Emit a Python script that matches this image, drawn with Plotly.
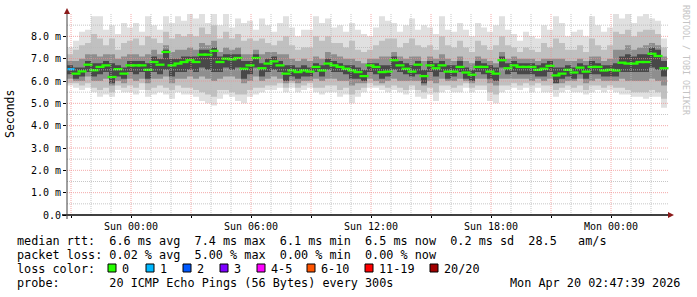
import plotly.graph_objects as go
import pandas as pd

# ---------------- data ----------------
median_ms = [6.53, 6.33, 6.43, 6.73, 6.48, 6.63, 6.70, 6.18, 6.53, 6.33,
             6.70, 6.70, 6.70, 6.50, 6.85, 6.73, 7.30, 6.70, 6.78, 6.85,
             6.93, 6.85, 7.18, 7.18, 7.35, 6.85, 7.00, 6.97, 7.03, 6.55,
             6.70, 7.03, 6.57, 6.78, 6.88, 6.70, 6.33, 6.47, 6.40, 6.47,
             6.42, 6.63, 6.47, 6.78, 6.70, 6.63, 6.55, 6.47, 6.40, 6.22,
             6.70, 6.63, 6.40, 6.42, 6.93, 6.70, 6.55, 6.42, 6.73, 6.22,
             6.70, 6.57, 6.70, 6.42, 6.42, 6.63, 6.38, 6.28, 6.63, 6.63,
             6.42, 6.33, 6.93, 6.57, 6.70, 6.63, 6.63, 6.63, 6.50, 6.55,
             6.68, 6.25, 6.33, 6.50, 6.38, 6.60, 6.42, 6.63, 6.63, 6.47,
             6.50, 6.47, 6.82, 6.78, 6.78, 6.85, 6.85, 7.22, 7.12, 6.57]

loss_count = [1, 0, 0, 0, 0, 0, 0, 0, 0, 0, 0, 0, 0, 0, 0, 0, 0, 0, 0, 0,
              0, 0, 0, 0, 0, 0, 0, 0, 0, 0, 0, 0, 0, 0, 0, 0, 0, 0, 0, 0,
              0, 0, 0, 0, 0, 0, 0, 0, 0, 0, 0, 0, 0, 0, 0, 0, 0, 0, 0, 0,
              0, 0, 0, 0, 0, 0, 0, 0, 0, 0, 0, 0, 0, 0, 0, 0, 0, 0, 0, 0,
              0, 0, 0, 0, 0, 0, 0, 0, 0, 0, 0, 0, 0, 0, 0, 0, 0, 0, 0, 0]

# outermost smoke (min / max ping)
smoke1_hi = [7.5, 7.8, 8.2, 8.3, 8.9, 8.9, 8.3, 8.5, 8.1, 8.6,
             8.4, 8.6, 8.2, 8.9, 8.5, 8.3, 8.9, 8.6, 8.9, 8.7,
             9.2, 8.8, 9.2, 8.6, 9.2, 8.5, 9.0, 8.4, 8.8, 8.6,
             8.7, 8.3, 8.8, 8.5, 8.2, 8.6, 8.9, 8.4, 8.0, 8.3,
             8.3, 8.9, 8.6, 8.8, 8.4, 8.5, 8.2, 8.6, 8.3, 8.1,
             8.0, 8.4, 8.9, 8.7, 8.6, 8.2, 8.5, 8.8, 8.3, 8.5,
             8.4, 8.1, 8.9, 8.3, 8.2, 8.6, 8.3, 8.0, 8.6, 8.4,
             8.2, 8.5, 8.9, 8.3, 8.1, 7.8, 8.2, 8.0, 7.9, 8.5,
             8.3, 8.9, 8.6, 8.0, 8.2, 8.3, 8.0, 8.9, 8.5, 8.2,
             8.4, 9.0, 8.8, 9.0, 8.6, 8.9, 9.0, 8.8, 8.7, 7.9]
smoke1_lo = [5.8, 5.7, 5.6, 5.7, 5.5, 5.3, 5.4, 5.3, 5.6, 5.5,
             5.5, 5.4, 5.6, 5.3, 5.4, 5.5, 5.4, 5.2, 5.5, 5.4,
             5.4, 5.3, 5.1, 5.0, 4.9, 5.2, 5.4, 5.3, 5.1, 5.0,
             5.3, 5.4, 5.5, 5.6, 5.6, 5.7, 5.5, 5.7, 5.5, 5.6,
             5.7, 5.5, 5.4, 5.5, 5.5, 5.3, 5.4, 5.0, 5.3, 5.5,
             5.7, 5.7, 5.6, 5.5, 5.6, 5.5, 5.4, 5.6, 5.3, 5.2,
             5.4, 5.1, 5.5, 5.6, 5.5, 5.5, 5.7, 5.5, 5.6, 5.6,
             5.1, 5.0, 5.5, 5.6, 5.7, 5.6, 5.7, 5.5, 5.7, 5.5,
             5.5, 5.3, 5.5, 5.6, 5.5, 5.5, 5.4, 5.5, 5.6, 5.5,
             5.6, 5.5, 5.4, 5.4, 5.3, 5.3, 5.2, 5.3, 5.3, 4.8]
# second smoke layer
smoke2_hi = [7.2, 7.4, 7.6, 7.7, 8.1, 7.9, 7.6, 7.9, 7.4, 7.7,
             7.8, 7.9, 7.6, 8.0, 7.9, 7.7, 8.2, 7.9, 8.1, 8.0,
             8.1, 8.0, 8.4, 8.1, 8.5, 7.9, 8.2, 7.9, 8.1, 7.8,
             7.9, 7.8, 7.9, 7.7, 7.6, 7.8, 8.0, 7.6, 7.4, 7.5,
             7.5, 8.0, 7.8, 8.0, 7.7, 7.7, 7.5, 7.8, 7.4, 7.3,
             7.4, 7.6, 7.8, 7.9, 7.9, 7.5, 7.7, 7.9, 7.6, 7.5,
             7.6, 7.4, 8.0, 7.6, 7.5, 7.8, 7.5, 7.3, 7.8, 7.6,
             7.4, 7.6, 8.0, 7.6, 7.5, 7.3, 7.5, 7.4, 7.3, 7.7,
             7.5, 7.9, 7.7, 7.4, 7.4, 7.6, 7.3, 7.9, 7.6, 7.4,
             7.6, 8.2, 8.1, 8.3, 8.0, 8.2, 8.3, 8.3, 8.1, 7.5]
smoke2_lo = [5.9, 5.9, 5.8, 5.9, 5.7, 5.6, 5.7, 5.5, 5.8, 5.7,
             5.8, 5.7, 5.9, 5.6, 5.7, 5.8, 5.7, 5.6, 5.8, 5.7,
             5.7, 5.6, 5.5, 5.4, 5.3, 5.6, 5.6, 5.5, 5.4, 5.4,
             5.6, 5.7, 5.7, 5.8, 5.8, 5.9, 5.7, 5.9, 5.7, 5.8,
             5.9, 5.7, 5.7, 5.8, 5.8, 5.6, 5.7, 5.4, 5.6, 5.7,
             5.9, 5.8, 5.8, 5.7, 5.8, 5.7, 5.6, 5.8, 5.6, 5.5,
             5.7, 5.5, 5.8, 5.8, 5.7, 5.8, 5.9, 5.7, 5.8, 5.8,
             5.5, 5.4, 5.8, 5.8, 5.9, 5.8, 5.9, 5.8, 5.9, 5.8,
             5.8, 5.6, 5.7, 5.8, 5.7, 5.8, 5.6, 5.8, 5.8, 5.7,
             5.8, 5.7, 5.7, 5.6, 5.5, 5.5, 5.5, 5.6, 5.5, 5.2]
# third smoke layer
smoke3_hi = [6.9, 6.9, 7.0, 7.2, 7.2, 7.1, 7.2, 7.2, 7.0, 7.1,
             7.2, 7.2, 7.1, 7.2, 7.4, 7.2, 7.6, 7.3, 7.4, 7.4,
             7.5, 7.4, 7.7, 7.6, 7.8, 7.3, 7.5, 7.4, 7.5, 7.2,
             7.2, 7.4, 7.2, 7.3, 7.3, 7.2, 7.2, 7.0, 6.9, 7.0,
             6.9, 7.1, 7.0, 7.3, 7.2, 7.1, 7.0, 7.0, 6.9, 6.8,
             7.0, 7.0, 7.1, 7.1, 7.3, 7.1, 7.0, 7.1, 7.1, 6.9,
             7.1, 7.0, 7.2, 7.0, 6.9, 7.1, 6.9, 6.8, 7.1, 7.0,
             6.9, 6.8, 7.3, 7.0, 7.1, 7.0, 7.0, 7.0, 6.9, 7.0,
             7.0, 7.0, 7.0, 6.9, 6.9, 7.0, 6.9, 7.1, 7.1, 6.9,
             7.0, 7.4, 7.4, 7.6, 7.4, 7.5, 7.6, 7.7, 7.6, 7.1]
smoke3_lo = [6.1, 6.0, 6.0, 6.2, 6.0, 6.0, 6.1, 5.8, 6.0, 5.9,
             6.1, 6.0, 6.1, 5.9, 6.1, 6.1, 6.2, 5.9, 6.1, 6.1,
             6.2, 6.1, 6.2, 6.1, 6.0, 6.1, 6.2, 6.2, 6.1, 5.9,
             6.0, 6.2, 6.0, 6.1, 6.2, 6.1, 5.9, 6.0, 5.9, 6.0,
             6.0, 6.1, 6.0, 6.1, 6.1, 6.0, 6.0, 5.8, 5.9, 5.9,
             6.1, 6.0, 5.9, 6.0, 6.1, 6.0, 6.0, 6.0, 6.0, 5.8,
             6.0, 5.9, 6.1, 6.0, 6.0, 6.1, 6.0, 5.9, 6.1, 6.1,
             5.9, 5.8, 6.1, 6.1, 6.1, 6.1, 6.1, 6.0, 6.1, 6.0,
             6.1, 5.9, 5.9, 6.0, 6.0, 6.1, 5.9, 6.0, 6.1, 6.0,
             6.0, 6.0, 6.1, 6.0, 6.0, 6.0, 6.0, 6.1, 6.0, 5.8]
# innermost (darkest) smoke layer
smoke4_hi = [6.7, 6.6, 6.6, 6.9, 6.8, 6.8, 6.9, 6.8, 6.7, 6.6,
             6.9, 6.9, 6.9, 6.8, 7.1, 7.0, 7.4, 7.0, 7.0, 7.1,
             7.1, 7.1, 7.4, 7.4, 7.5, 7.1, 7.2, 7.2, 7.2, 6.9,
             6.9, 7.2, 6.8, 7.0, 7.1, 6.9, 6.7, 6.7, 6.6, 6.7,
             6.6, 6.8, 6.7, 7.0, 6.9, 6.8, 6.7, 6.7, 6.6, 6.5,
             6.8, 6.8, 6.7, 6.7, 7.1, 6.9, 6.8, 6.7, 6.9, 6.5,
             6.9, 6.8, 6.9, 6.7, 6.7, 6.9, 6.6, 6.5, 6.9, 6.8,
             6.7, 6.6, 7.1, 6.8, 6.9, 6.8, 6.8, 6.8, 6.7, 6.8,
             6.9, 6.6, 6.6, 6.7, 6.6, 6.8, 6.7, 6.9, 6.8, 6.7,
             6.7, 6.8, 7.1, 7.2, 7.1, 7.2, 7.2, 7.5, 7.4, 6.9]
smoke4_lo = [6.3, 6.1, 6.2, 6.4, 6.2, 6.3, 6.4, 5.9, 6.2, 6.1,
             6.4, 6.3, 6.4, 6.1, 6.4, 6.3, 6.5, 6.2, 6.4, 6.4,
             6.5, 6.4, 6.6, 6.5, 6.4, 6.4, 6.6, 6.5, 6.6, 6.1,
             6.3, 6.6, 6.2, 6.4, 6.5, 6.4, 6.0, 6.2, 6.1, 6.2,
             6.2, 6.4, 6.2, 6.5, 6.4, 6.4, 6.3, 6.1, 6.1, 6.0,
             6.4, 6.3, 6.1, 6.2, 6.5, 6.4, 6.3, 6.2, 6.3, 5.9,
             6.4, 6.2, 6.4, 6.1, 6.2, 6.4, 6.1, 6.0, 6.4, 6.3,
             6.1, 6.0, 6.6, 6.3, 6.4, 6.3, 6.3, 6.3, 6.2, 6.2,
             6.4, 5.9, 6.1, 6.2, 6.1, 6.3, 6.1, 6.3, 6.3, 6.2,
             6.2, 6.2, 6.4, 6.4, 6.4, 6.4, 6.4, 6.6, 6.5, 6.2]

start_time = "2026-04-18 20:48"
step_minutes = 18

x_tick_times = ["2026-04-18 21:00", "2026-04-19 00:00", "2026-04-19 03:00",
                "2026-04-19 06:00", "2026-04-19 09:00", "2026-04-19 12:00",
                "2026-04-19 15:00", "2026-04-19 18:00", "2026-04-19 21:00",
                "2026-04-20 00:00"]
x_tick_labels = ["", "Sun 00:00", "", "Sun 06:00", "", "Sun 12:00", "",
                 "Sun 18:00", "", "Mon 00:00"]
y_tick_vals = [0, 1, 2, 3, 4, 5, 6, 7, 8]
y_tick_labels = ["0.0", "1.0 m", "2.0 m", "3.0 m", "4.0 m", "5.0 m",
                 "6.0 m", "7.0 m", "8.0 m"]

loss_labels = ["0", "1", "2", "3", "4-5", "6-10", "11-19", "20/20"]
loss_colors = ["#26ff00", "#00b8ff", "#0059ff", "#7e00ff", "#ff00ff",
               "#ff5500", "#ff0000", "#a10000"]

rtt_line = "median rtt:  6.6 ms avg  7.4 ms max  6.1 ms min  6.5 ms now  0.2 ms sd  28.5   am/s"
loss_line = "packet loss: 0.02 % avg  5.00 % max  0.00 % min  0.00 % now"
probe_line = "probe:       20 ICMP Echo Pings (56 Bytes) every 300s"
stamp_line = "Mon Apr 20 02:47:39 2026"
y_title = "Seconds"
watermark = "RRDTOOL / TOBI OETIKER"

# ---------------- geometry ----------------
W, H = 697, 297
PL, PR, PT, PB = 67, 669, 14, 215
X_RANGE = ["2026-04-18 20:48", "2026-04-20 02:54"]
Y_RANGE = [0, 9.0]
MONO = "DejaVu Sans Mono"


def px(x):
    return (x - PL) / (PR - PL)


def py(y):
    return (PB - y) / (PB - PT)


step = pd.Timedelta(minutes=step_minutes)
t0 = pd.Timestamp(start_time)
times = [t0 + i * step for i in range(len(median_ms))]
edges = times + [times[-1] + step]
centers = [t + step / 2 for t in times]


def ext(v):
    return list(v) + [v[-1]]


fig = go.Figure()
bands = [(smoke1_lo, smoke1_hi, "#e0e0e0"),
         (smoke2_lo, smoke2_hi, "#c0c0c0"),
         (smoke3_lo, smoke3_hi, "#8e8e8e"),
         (smoke4_lo, smoke4_hi, "#484848")]
for lo, hi, col in bands:
    fig.add_trace(go.Scatter(x=edges, y=ext(lo), mode="lines",
                             line=dict(width=0, shape="hv"),
                             showlegend=False, hoverinfo="skip"))
    fig.add_trace(go.Scatter(x=edges, y=ext(hi), mode="lines",
                             line=dict(width=0, shape="hv"),
                             fill="tonexty", fillcolor=col,
                             showlegend=False, hoverinfo="skip"))


def loss_color(n):
    if n == 0:
        return loss_colors[0]
    if n <= 3:
        return loss_colors[n]
    if n <= 5:
        return loss_colors[4]
    if n <= 10:
        return loss_colors[5]
    if n <= 19:
        return loss_colors[6]
    return loss_colors[7]


fig.add_trace(go.Scatter(
    x=centers, y=median_ms, mode="markers",
    marker=dict(symbol="line-ew", size=6.5,
                line=dict(width=2.3, color=[loss_color(n) for n in loss_count])),
    showlegend=False, hoverinfo="skip"))

shapes = []
# grid (drawn above the smoke, like rrdtool)
grid_minor = "rgba(185,185,185,0.8)"
grid_major = "rgba(240,140,140,0.75)"
for k in range(1, 18):
    v = k * 0.5
    major = (k % 2 == 0)
    shapes.append(dict(type="line", xref="paper", yref="y", x0=0, x1=1,
                       y0=v, y1=v, layer="above",
                       line=dict(color=grid_major if major else grid_minor,
                                 width=1, dash="1px,1px")))
hours = pd.date_range("2026-04-18 21:00", "2026-04-20 02:00", freq="h")
for h in hours:
    major = (h.hour % 3 == 0)
    shapes.append(dict(type="line", xref="x", yref="paper", x0=h, x1=h,
                       y0=0, y1=1, layer="above",
                       line=dict(color=grid_major if major else grid_minor,
                                 width=1, dash="1px,1px")))
# axes lines + arrows
shapes.append(dict(type="line", xref="paper", yref="paper",
                   x0=px(62), x1=px(669), y0=py(215), y1=py(215),
                   line=dict(color="#000000", width=1.6), layer="above"))
shapes.append(dict(type="line", xref="paper", yref="paper",
                   x0=px(67), x1=px(67), y0=py(219), y1=py(12),
                   line=dict(color="#404040", width=1), layer="above"))
shapes.append(dict(type="path", xref="paper", yref="paper", layer="above",
                   path=f"M {px(668)} {py(212)} L {px(674)} {py(215)} L {px(668)} {py(218)} Z",
                   fillcolor="#8b1a1a", line=dict(width=0)))
shapes.append(dict(type="path", xref="paper", yref="paper", layer="above",
                   path=f"M {px(64)} {py(14)} L {px(67)} {py(8)} L {px(70)} {py(14)} Z",
                   fillcolor="#8b1a1a", line=dict(width=0)))

annotations = []
FS = 11.8


def txt(s, x, y, anchor="left", size=FS, color="#000000", angle=0):
    annotations.append(dict(text=s.replace(" ", "\u00a0"), xref="paper",
                            yref="paper", x=px(x), y=py(y), xanchor=anchor,
                            yanchor="middle", showarrow=False,
                            textangle=angle, borderpad=0,
                            font=dict(family=MONO, size=size, color=color)))


txt(rtt_line, 16, 241)
txt(loss_line, 16, 255)
txt("loss color:", 16, 269)
txt(probe_line, 16, 283)
txt(stamp_line, 681, 283, anchor="right")
txt(y_title, 10, 114, anchor="center", size=11.5, angle=-90)
txt(watermark, 686, 60, anchor="center", size=8.3, color="#c4c4c4", angle=90)

box_x = [108, 146, 183, 220, 257, 307, 365, 430]
for bx, lab, col in zip(box_x, loss_labels, loss_colors):
    shapes.append(dict(type="rect", xref="paper", yref="paper",
                       x0=px(bx), x1=px(bx + 8), y0=py(272), y1=py(264),
                       fillcolor=col, line=dict(color="#000000", width=1)))
    txt(lab, bx + 13, 269)

fig.update_layout(
    width=W, height=H,
    margin=dict(l=PL, r=W - PR, t=PT, b=H - PB, pad=0),
    paper_bgcolor="#ffffff", plot_bgcolor="#ffffff",
    showlegend=False,
    shapes=shapes, annotations=annotations,
    xaxis=dict(type="date", range=X_RANGE, showgrid=False, zeroline=False,
               tickvals=x_tick_times, ticktext=x_tick_labels,
               ticks="outside", ticklen=2, tickcolor="#000000",
               tickfont=dict(family=MONO, size=10, color="#000000"),
               showline=False, fixedrange=True),
    yaxis=dict(range=Y_RANGE, showgrid=False, zeroline=False,
               tickvals=y_tick_vals, ticktext=y_tick_labels,
               ticks="outside", ticklen=3, tickcolor="#000000",
               tickfont=dict(family=MONO, size=10, color="#000000"),
               showline=False, fixedrange=True),
)

fig.write_html("out.html", config={"displayModeBar": False})
